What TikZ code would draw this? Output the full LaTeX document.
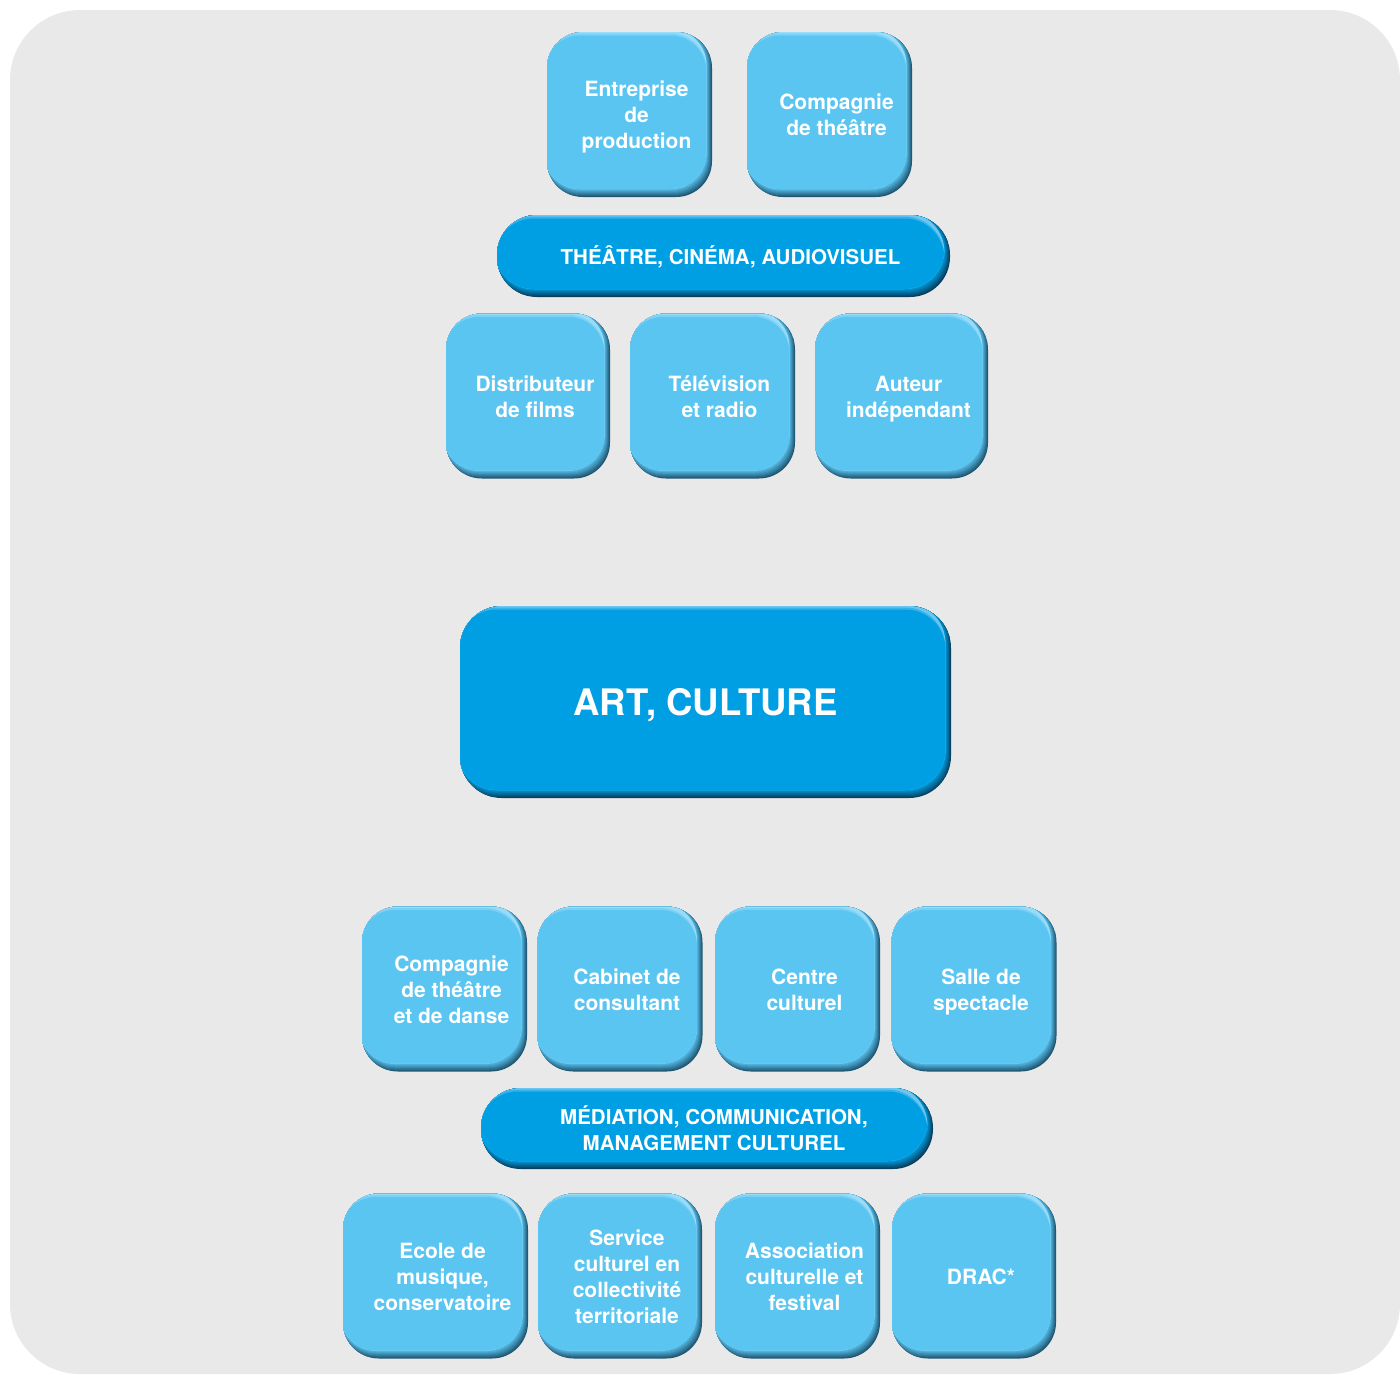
\documentclass[tikz,border=0pt]{standalone}
\usepackage{fontspec}
\setmainfont{TeX Gyre Heros}
\definecolor{bggrey}{HTML}{E9E9E9}
\definecolor{tileface}{HTML}{5BC5F2}
\definecolor{tiledark}{HTML}{1F5672}
\definecolor{tilelight}{HTML}{9ADCF8}
\definecolor{barface}{HTML}{009FE3}
\definecolor{bardark}{HTML}{083F5E}
\definecolor{barlight}{HTML}{6CC6EE}
% text of a box, pushed a little to the right and down as in the original
\newcommand\boxtext[1]{\hspace*{14pt}\raisebox{-3pt}[\height][\depth]{\begin{tabular}{@{}c@{}}#1\end{tabular}}}
\tikzset{
  bevel/.style n args={4}{fill=#1, rounded corners=#4, path picture={
    \foreach \k [evaluate=\k as \pct using 12.5*\k] in {1,...,8}
      \fill[#3!\pct!#1, rounded corners=#4] ([xshift=-3pt,yshift=3pt]path picture bounding box.north west) rectangle ([xshift=-0.7*\k pt,yshift=\k pt]path picture bounding box.south east);
    \fill[#2, rounded corners=#4] ([xshift=-3pt,yshift=3pt]path picture bounding box.north west) rectangle ([xshift=-5.6pt,yshift=8pt]path picture bounding box.south east);
    \fill[#2!50!#3, rounded corners=#4] ([xshift=-3pt,yshift=-1.5pt]path picture bounding box.north west) rectangle ([xshift=-5.6pt,yshift=8pt]path picture bounding box.south east);
    \fill[#3, rounded corners=#4] ([xshift=-3pt,yshift=-3.5pt]path picture bounding box.north west) rectangle ([xshift=-5.6pt,yshift=8pt]path picture bounding box.south east);
  }},
  tile/.style={bevel={tiledark}{tilelight}{tileface}{36pt}, inner sep=0pt,
    minimum width=165pt, minimum height=165pt, text=white,
    font=\fontsize{21}{26}\selectfont\bfseries},
  field/.style={bevel={bardark}{barlight}{barface}{40pt}, inner sep=0pt,
    minimum width=453pt, minimum height=82pt, text=white,
    font=\fontsize{20.5}{26}\selectfont\bfseries},
}
\begin{document}
\begin{tikzpicture}[x=1pt,y=-1pt]
\useasboundingbox (0,0) rectangle (1400,1374);
\fill[bggrey, rounded corners=70pt] (10,10) rectangle (1400,1374);
% theatre, cinema, audiovisuel
\node[tile] (entreprise) at (629.5,114.5) {\boxtext{Entreprise\\de\\production}};
\node[tile] (compagnie) at (829.5,114.5) {\boxtext{Compagnie\\de théâtre}};
\node[field] (theatre) at (723.5,256) {\boxtext{THÉÂTRE, CINÉMA, AUDIOVISUEL}};
\node[tile, minimum width=164pt] (distributeur) at (528,396) {\boxtext{Distributeur\\de films}};
\node[tile] (television) at (712.5,396) {\boxtext{Télévision\\et radio}};
\node[tile, minimum width=173pt] (auteur) at (901.5,396) {\boxtext{Auteur\\indépendant}};
% centre
\node[field, rounded corners=42pt, minimum width=491pt, minimum height=192pt, text depth=0pt,
  font=\fontsize{36.5}{40}\selectfont\bfseries] (art) at (705.5,702) {ART, CULTURE};
% mediation, communication, management culturel
\node[tile] (compagniedanse) at (444.5,989) {\boxtext{Compagnie\\de théâtre\\et de danse}};
\node[tile] (cabinet) at (620,989) {\boxtext{Cabinet de\\consultant}};
\node[tile] (centre) at (797.5,989) {\boxtext{Centre\\culturel}};
\node[tile] (salle) at (974,989) {\boxtext{Salle de\\spectacle}};
\node[field, minimum width=452pt, minimum height=81pt] (mediation) at (707,1128.5) {\boxtext{MÉDIATION, COMMUNICATION,\\MANAGEMENT CULTUREL}};
\node[tile, minimum width=185pt] (ecole) at (435.5,1276) {\boxtext{Ecole de\\musique,\\conservatoire}};
\node[tile, minimum width=164pt] (service) at (620,1276) {\boxtext{Service\\culturel en\\collectivité\\territoriale}};
\node[tile] (association) at (797.5,1276) {\boxtext{Association\\culturelle et\\festival}};
\node[tile, minimum width=164pt] (drac) at (974,1276) {\boxtext{DRAC*}};
\end{tikzpicture}
\end{document}
